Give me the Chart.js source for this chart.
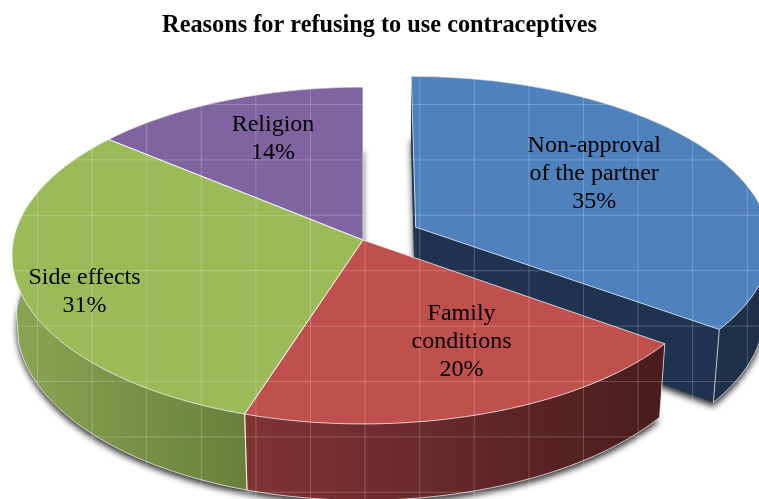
<!DOCTYPE html>
<html>

<head>
    <meta charset="utf-8">
    <title>Reasons for refusing to use contraceptives</title>
    <style>
        html, body { margin: 0; padding: 0; background: #fff; }
        canvas { display: block; }
    </style>
</head>

<body>
    <canvas id="canvas" width="759" height="499"></canvas>
    <script src="https://cdnjs.cloudflare.com/ajax/libs/Chart.js/4.4.1/chart.umd.js"></script>
    <script type="text/javascript">
        const categories = [
            ['Non-approval', 'of the partner'],
            ['Family', 'conditions'],
            ['Side effects'],
            ['Religion']
        ];
        const shares = [35, 20, 31, 14];
        const pull = [17, 0, 0, 0];

        const topColors = ['#4f81bd', '#c0504d', '#9bbb59', '#8064a2'];
        const wallFrom = ['#1f3350', '#803434', '#8ba454', '#5c4878'];
        const wallTo = ['#1d3048', '#4a1c1c', '#68803a', '#5c4878'];

        // the disc seen in perspective: top face and underside
        const topPlane = { a: 349.5, b: 167, k: -0.092, y0: 240 };
        const lowPlane = { a: 345, b: 175, k: -0.085, y0: 309 };
        const centerX = 363;
        const rightStretch = 0.012;

        // label offset in px from the point at 0.6 radius on the slice middle
        const labelNudge = [[-3, -10], [30, 1], [-74, 23], [-5, -15]];

        function project(plane, u, v) {
            const d = 1 + plane.k * v;
            const stretch = 1 + rightStretch * Math.max(u, 0);
            return [centerX + plane.a * u * stretch / d, plane.y0 + plane.b * v / d];
        }

        function rimPoints(plane, arc, ex, ey) {
            const pts = [];
            const steps = 80;
            for (let i = 0; i <= steps; i++) {
                const t = arc.startAngle + (arc.endAngle - arc.startAngle) * i / steps;
                pts.push(project(plane, ex + Math.cos(t), ey + Math.sin(t)));
            }
            return pts;
        }

        function tracePath(ctx, pts, close) {
            ctx.beginPath();
            pts.forEach(function(p, i) {
                if (i === 0) ctx.moveTo(p[0], p[1]);
                else ctx.lineTo(p[0], p[1]);
            });
            if (close) ctx.closePath();
        }

        const pie3d = {
            id: 'pie3d',
            beforeDatasetsDraw: function(chart) {
                const ctx = chart.ctx;
                const arcs = chart.getDatasetMeta(0).data;
                const edge = 'rgba(255,255,255,0.72)';

                const slices = arcs.map(function(arc, i) {
                    const mid = (arc.startAngle + arc.endAngle) / 2;
                    const e = arc.options.offset / 100;
                    return { arc: arc, i: i, mid: mid, ex: e * Math.cos(mid), ey: e * Math.sin(mid), pulled: e > 0 };
                });
                // back to front
                const order = [0, 3, 2, 1].map(function(i) { return slices[i]; });

                ctx.save();

                // soft shadow under the underside
                ctx.save();
                ctx.shadowColor = 'rgba(0,0,0,0.8)';
                ctx.shadowBlur = 6;
                ctx.shadowOffsetY = 4;
                ctx.fillStyle = '#555';
                order.forEach(function(s) {
                    const pts = [project(lowPlane, s.ex, s.ey)].concat(rimPoints(lowPlane, s.arc, s.ex, s.ey));
                    tracePath(ctx, pts, true);
                    ctx.fill();
                });
                ctx.restore();

                order.forEach(function(s) {
                    const topApex = project(topPlane, s.ex, s.ey);
                    const lowApex = project(lowPlane, s.ex, s.ey);
                    const topRim = rimPoints(topPlane, s.arc, s.ex, s.ey);
                    const lowRim = rimPoints(lowPlane, s.arc, s.ex, s.ey);

                    // cut faces only show on the pulled slice
                    if (s.pulled) {
                        ctx.fillStyle = wallFrom[s.i];
                        [[topRim[0], lowRim[0]], [topRim[topRim.length - 1], lowRim[lowRim.length - 1]]].forEach(function(e) {
                            tracePath(ctx, [topApex, e[0], e[1], lowApex], true);
                            ctx.fill();
                        });
                    }

                    // outer wall
                    const xs = topRim.map(function(p) { return p[0]; });
                    const grad = ctx.createLinearGradient(Math.min.apply(null, xs), 0, Math.max.apply(null, xs), 0);
                    grad.addColorStop(0, wallFrom[s.i]);
                    grad.addColorStop(1, wallTo[s.i]);
                    tracePath(ctx, topRim.concat(lowRim.slice().reverse()), true);
                    ctx.fillStyle = grad;
                    ctx.fill();

                    // top face
                    tracePath(ctx, [topApex].concat(topRim), true);
                    ctx.fillStyle = s.arc.options.backgroundColor;
                    ctx.fill();
                });

                // faint grid lying over the pie only
                ctx.save();
                ctx.globalCompositeOperation = 'source-atop';
                ctx.strokeStyle = 'rgba(255,255,255,0.2)';
                ctx.lineWidth = 1;
                ctx.beginPath();
                for (let x = 37.5; x < 759; x += 54.6) {
                    ctx.moveTo(x, 60);
                    ctx.lineTo(x, 499);
                }
                for (let y = 104.5; y < 499; y += 55.4) {
                    ctx.moveTo(0, y);
                    ctx.lineTo(759, y);
                }
                ctx.stroke();
                ctx.restore();

                // light edges
                ctx.strokeStyle = edge;
                ctx.lineWidth = 1;
                order.forEach(function(s) {
                    const topApex = project(topPlane, s.ex, s.ey);
                    const topRim = rimPoints(topPlane, s.arc, s.ex, s.ey);
                    const lowRim = rimPoints(lowPlane, s.arc, s.ex, s.ey);
                    tracePath(ctx, [topApex].concat(topRim), true);
                    ctx.stroke();
                    const frontTop = [], frontLow = [];
                    topRim.forEach(function(p, k) {
                        if (lowRim[k][1] > p[1] && p[1] > 268) {
                            frontTop.push(p);
                            frontLow.push(lowRim[k]);
                        }
                    });
                    if (frontLow.length) {
                        tracePath(ctx, frontLow, false);
                        ctx.stroke();
                        tracePath(ctx, [frontTop[0], frontLow[0]], false);
                        ctx.stroke();
                        const n = frontTop.length - 1;
                        tracePath(ctx, [frontTop[n], frontLow[n]], false);
                        ctx.stroke();
                    }
                });

                // category labels
                ctx.fillStyle = '#000';
                ctx.font = '24px "Liberation Serif"';
                ctx.textAlign = 'center';
                ctx.textBaseline = 'middle';
                slices.forEach(function(s) {
                    const p = project(topPlane, s.ex + 0.6 * Math.cos(s.mid), s.ey + 0.6 * Math.sin(s.mid));
                    const lines = categories[s.i].concat([shares[s.i] + '%']);
                    const x = p[0] + labelNudge[s.i][0];
                    const y = p[1] + labelNudge[s.i][1];
                    lines.forEach(function(line, k) {
                        ctx.fillText(line, x, y + (k - (lines.length - 1) / 2) * 28);
                    });
                });

                ctx.restore();
                return false;
            }
        };

        window.onload = function() {
            const ctx = document.getElementById('canvas').getContext('2d');
            window.myPie = new Chart(ctx, {
                type: 'pie',
                data: {
                    labels: categories.map(function(c) { return c.join(' '); }),
                    datasets: [{
                        data: shares,
                        backgroundColor: topColors,
                        offset: pull,
                        borderWidth: 0
                    }]
                },
                options: {
                    responsive: false,
                    animation: false,
                    events: [],
                    plugins: {
                        legend: { display: false },
                        tooltip: { enabled: false },
                        title: {
                            display: true,
                            text: 'Reasons for refusing to use contraceptives',
                            color: '#000',
                            font: { family: '"Liberation Serif"', size: 24.3, weight: 'bold' },
                            padding: { top: 11, bottom: 10 }
                        }
                    }
                },
                plugins: [pie3d]
            });
        };
    </script>
</body>

</html>
